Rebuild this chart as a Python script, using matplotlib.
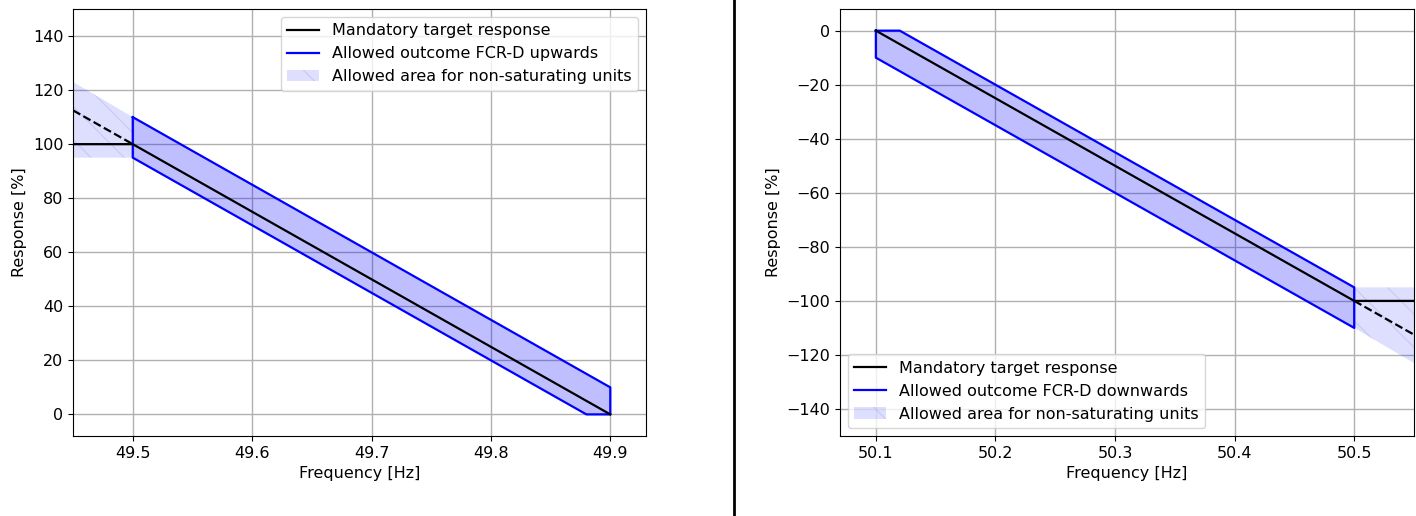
import matplotlib
matplotlib.use('Agg')
import matplotlib.pyplot as plt
from matplotlib.lines import Line2D

# FCR-D upwards (left panel)
up_xlim = (49.45, 49.93)
up_target_x = [49.45, 49.5, 49.9]
up_target_y = [100, 100, 0]
up_dash_x = [49.45, 49.5]
up_dash_y = [112.5, 100]
up_outline_x = [49.5, 49.5, 49.88, 49.9, 49.9, 49.5]
up_outline_y = [110, 95, 0, 0, 10, 110]
up_area_x = [49.45, 49.5]
up_area_low = [95, 95]
up_area_high = [123, 110]

# FCR-D downwards (right panel)
down_xlim = (50.07, 50.55)
down_target_x = [50.1, 50.5, 50.55]
down_target_y = [0, -100, -100]
down_dash_x = [50.5, 50.55]
down_dash_y = [-100, -112.5]
down_outline_x = [50.1, 50.12, 50.5, 50.5, 50.1, 50.1]
down_outline_y = [0, 0, -95, -110, -10, 0]
down_area_x = [50.5, 50.55]
down_area_low = [-110, -123]
down_area_high = [-95, -95]

plt.rcParams['font.size'] = 11.5
plt.rcParams['hatch.linewidth'] = 0.8


def plot_panel(ax, target_x, target_y, dash_x, dash_y, outline_x, outline_y,
               area_x, area_low, area_high, direction, xlim, ylim, loc):
    """
    Draws target response, allowed outcome band and non-saturating area.
    """
    ax.fill(outline_x, outline_y, color='blue', alpha=0.25, lw=0)
    ax.fill_between(area_x, area_low, area_high, facecolor=(0, 0, 1, 0.13),
                    edgecolor=(0.45, 0.45, 0.75, 0.2), hatch='\\', lw=0,
                    label='Allowed area for non-saturating units')
    ax.plot(outline_x, outline_y, color='blue', lw=1.6,
            label=f'Allowed outcome FCR-D {direction}')
    ax.plot(dash_x, dash_y, color='black', ls='--', lw=1.6)
    ax.plot(target_x, target_y, color='black', lw=1.6,
            label='Mandatory target response')
    ax.set_xlim(*xlim)
    ax.set_ylim(*ylim)
    ax.grid(True, color='#b0b0b0', lw=1)
    ax.set_axisbelow(True)
    ax.set_xlabel('Frequency [Hz]')
    ax.set_ylabel('Response [%]')
    handles, labels = ax.get_legend_handles_labels()
    order = [2, 1, 0]
    ax.legend([handles[i] for i in order], [labels[i] for i in order], loc=loc)


fig = plt.figure(figsize=(14.16, 5.16), dpi=100)
ax1 = fig.add_axes([0.0516, 0.155, 0.4047, 0.8275])
ax2 = fig.add_axes([0.5932, 0.155, 0.4054, 0.8275])

plot_panel(ax1, up_target_x, up_target_y, up_dash_x, up_dash_y,
           up_outline_x, up_outline_y, up_area_x, up_area_low, up_area_high,
           'upwards', up_xlim, (-8, 150), 'upper right')
ax1.set_xticks([49.5, 49.6, 49.7, 49.8, 49.9])
ax1.set_yticks([0, 20, 40, 60, 80, 100, 120, 140])

plot_panel(ax2, down_target_x, down_target_y, down_dash_x, down_dash_y,
           down_outline_x, down_outline_y, down_area_x, down_area_low,
           down_area_high, 'downwards', down_xlim, (-150, 8), 'lower left')
ax2.set_xticks([50.1, 50.2, 50.3, 50.4, 50.5])
ax2.set_yticks([0, -20, -40, -60, -80, -100, -120, -140])

fig.add_artist(Line2D([0.5184, 0.5184], [0, 1], color='black', lw=2,
                      transform=fig.transFigure))

plt.savefig('out.png', dpi=100)
